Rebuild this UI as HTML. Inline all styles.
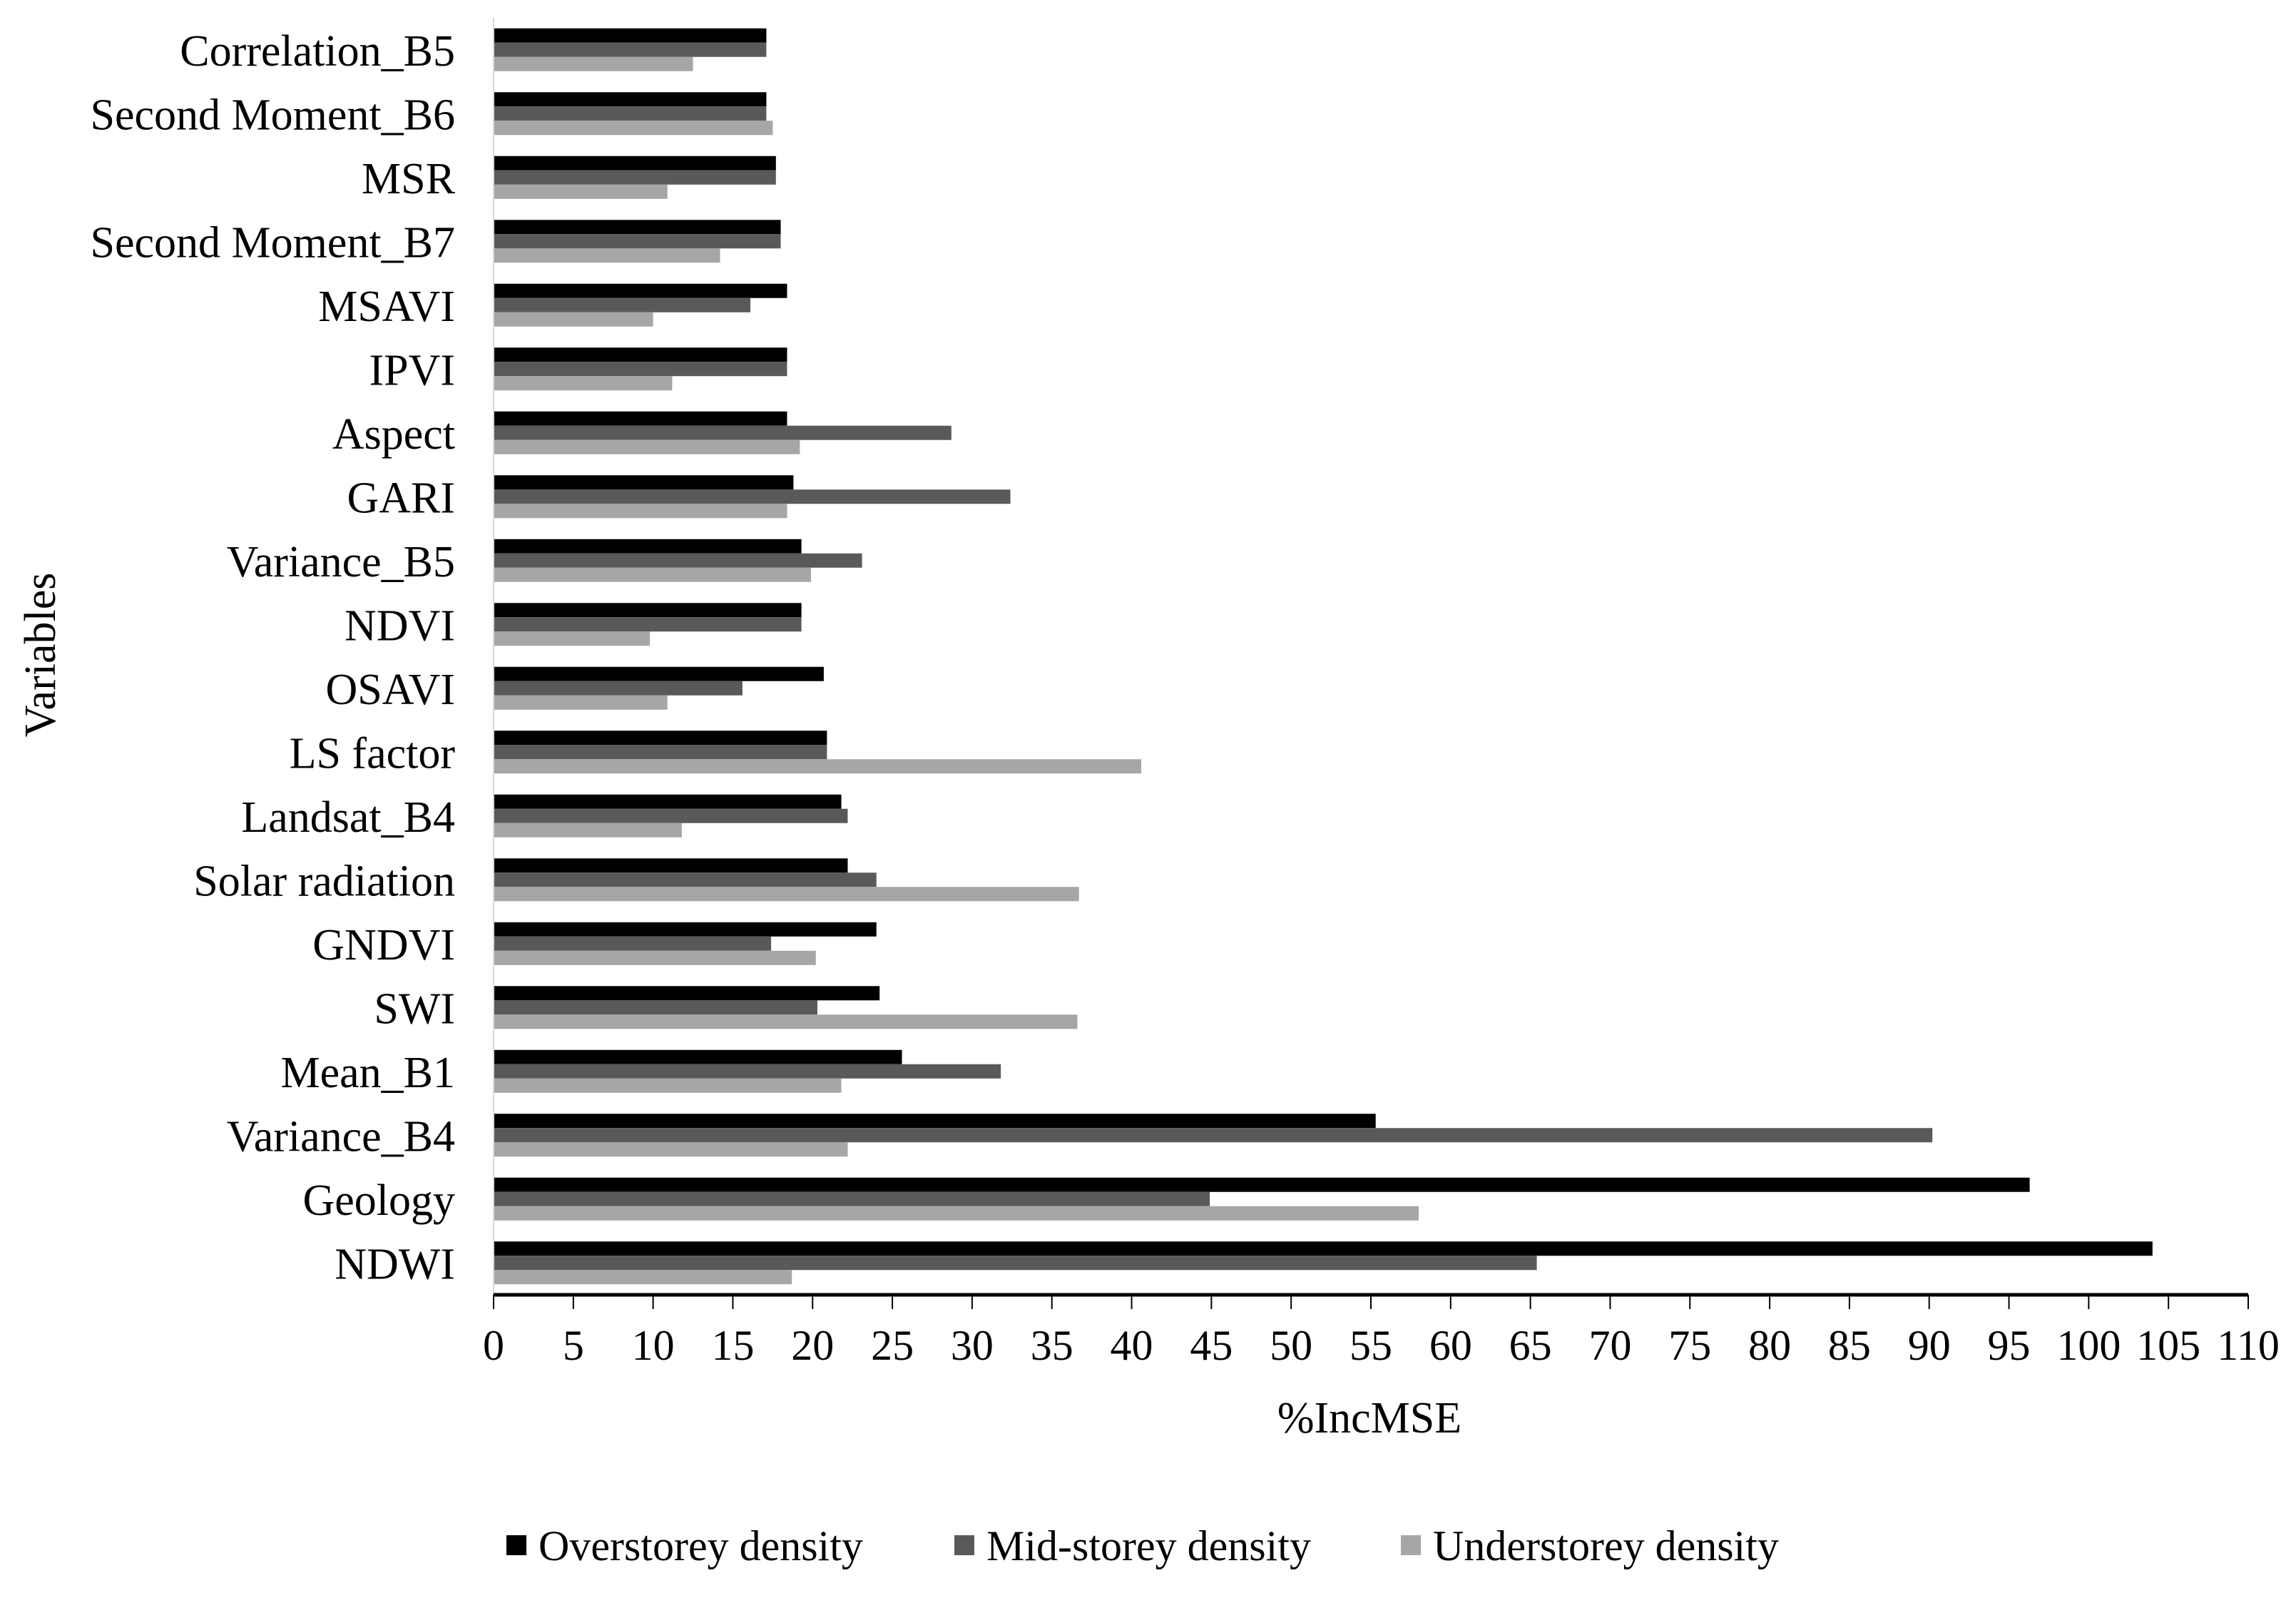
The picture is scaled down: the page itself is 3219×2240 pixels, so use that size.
<!DOCTYPE html>
<html><head><meta charset="utf-8"><style>
html,body{margin:0;padding:0;background:#fff}
svg{display:block}
svg text{font-family:"Liberation Serif","DejaVu Serif",serif !important;fill:#000}
</style></head><body>
<svg id="chart" width="3219" height="2240" viewBox="0 0 3219 2240" xmlns="http://www.w3.org/2000/svg" font-family="Liberation Serif, serif">
<g id="bars"></g>
<g id="yaxis"></g>
<g id="xaxis"></g>
<text x="57" y="938" font-size="62" text-anchor="middle" transform="rotate(-90 57 918)">Variables</text>
<text x="1920" y="2008" font-size="62" text-anchor="middle">%IncMSE</text>
<g>
<rect x="710" y="2152" width="28" height="28" fill="#000"/>
<text x="755" y="2187" font-size="60">Overstorey density</text>
<rect x="1338" y="2152" width="28" height="28" fill="#595959"/>
<text x="1383" y="2187" font-size="60">Mid-storey density</text>
<rect x="1964" y="2152" width="28" height="28" fill="#a6a6a6"/>
<text x="2009" y="2187" font-size="60">Understorey density</text>
</g>
</svg>
<script>
const categories = ["Correlation_B5","Second Moment_B6","MSR","Second Moment_B7","MSAVI","IPVI","Aspect","GARI","Variance_B5","NDVI","OSAVI","LS factor","Landsat_B4","Solar radiation","GNDVI","SWI","Mean_B1","Variance_B4","Geology","NDWI"];
const overstorey = [17.1,17.1,17.7,18.0,18.4,18.4,18.4,18.8,19.3,19.3,20.7,20.9,21.8,22.2,24.0,24.2,25.6,55.3,96.3,104.0];
const midstorey = [17.1,17.1,17.7,18.0,16.1,18.4,28.7,32.4,23.1,19.3,15.6,20.9,22.2,24.0,17.4,20.3,31.8,90.2,44.9,65.4];
const understorey = [12.5,17.5,10.9,14.2,10.0,11.2,19.2,18.4,19.9,9.8,10.9,40.6,11.8,36.7,20.2,36.6,21.8,22.2,58.0,18.7];
const xTicks = [0,5,10,15,20,25,30,35,40,45,50,55,60,65,70,75,80,85,90,95,100,105,110];

const NS="http://www.w3.org/2000/svg";
const X0=692, X1=3152, XMAX=110, YTOP=25, YBOT=1815;
const band=(YBOT-YTOP)/categories.length;
const barH=20;
function xs(v){return X0+(v/XMAX)*(X1-X0);}
function bandY(i){return YTOP+i*band;}
function mk(tag,attrs,parent){const e=document.createElementNS(NS,tag);for(const k in attrs)e.setAttribute(k,attrs[k]);parent.appendChild(e);return e;}
const gb=document.getElementById('bars'), gy=document.getElementById('yaxis'), gx=document.getElementById('xaxis');
const series=[[overstorey,'#000','overstorey'],[midstorey,'#595959','midstorey'],[understorey,'#a6a6a6','understorey']];
categories.forEach((c,i)=>{
  const y0=bandY(i)+(band-3*barH)/2;
  series.forEach((s,j)=>{
    const r=mk('rect',{x:X0,y:y0+j*barH,width:Math.max(0,xs(s[0][i])-X0),height:barH,fill:s[1]},gb);
    
    
  });
  const t=mk('text',{x:638,y:bandY(i)+band/2+22,'font-size':62,'text-anchor':'end'},gy);
  t.textContent=c;
  
  
});
const ya=mk('line',{x1:X0,y1:YTOP,x2:X0,y2:YBOT,stroke:'#d9d9d9','stroke-width':2},gy);


const xa=mk('line',{x1:X0,y1:YBOT,x2:X1,y2:YBOT,stroke:'#000','stroke-width':5},gx);


xTicks.forEach(v=>{
  const l=mk('line',{x1:xs(v),y1:YBOT,x2:xs(v),y2:YBOT+20,stroke:'#000','stroke-width':2},gx);
  
  
  const t=mk('text',{x:xs(v),y:1906,'font-size':60,'text-anchor':'middle'},gx);
  t.textContent=v;
  
  
});
</script>
</body></html>
